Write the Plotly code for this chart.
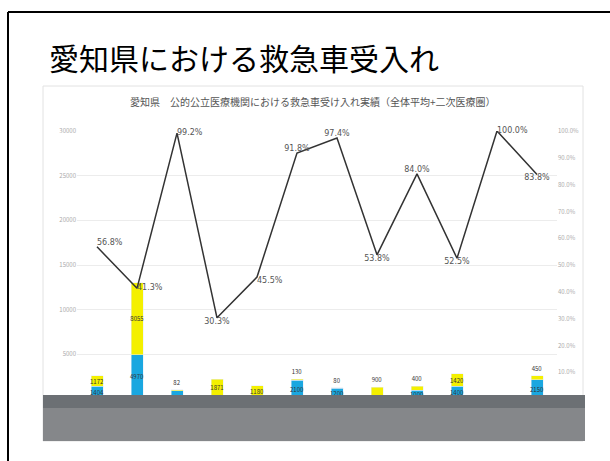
import plotly.graph_objects as go

# ---- data ----
categories = ["全体", "名古屋", "海部", "尾張中部", "尾張東部", "尾張西部", "尾張北部",
              "知多半島", "西三河北部", "西三河南部", "東三河北部", "東三河南部"]
blue_vals = [1404, 4970, 950, 320, 300, 2100, 1200, 400, 1000, 1400, 150, 2150]
yellow_vals = [1172, 8055, 82, 1871, 1180, 130, 80, 900, 400, 1420, 50, 450]
blue_labels = ["1404", "4970", "", "", "", "2100", "1200", "", "1000", "1400", "150", "2150"]
yellow_labels = ["1172", "8055", "82", "1871", "1180", "130", "80", "900", "400", "1420", "", "450"]
yellow_text_pos = ["inside", "inside", "outside", "inside", "inside", "outside", "outside",
                   "outside", "outside", "inside", "outside", "outside"]
rate_vals = [56.8, 41.3, 99.2, 30.3, 45.5, 91.8, 97.4, 53.8, 84.0, 52.5, 100.0, 83.8]
rate_pos = ["top right", "middle right", "middle right", "bottom center", "bottom right",
            "top center", "top center", "bottom center", "top center", "bottom center",
            "middle right", "bottom center"]
left_ticks = [0, 5000, 10000, 15000, 20000, 25000, 30000]
right_ticks = [0, 10, 20, 30, 40, 50, 60, 70, 80, 90, 100]

W, H = 610, 461
L, R, T, B = 77, 557, 131, 399


def px(x):
    return (x - L) / (R - L)


def py(y):
    return (B - y) / (B - T)


fig = go.Figure()
fig.add_trace(go.Bar(x=categories, y=blue_vals, marker_color="#1aa7e0", width=0.3,
                     text=blue_labels, textposition="inside",
                     insidetextanchor="middle", constraintext="none", textangle=0,
                     textfont=dict(size=6, color="#333"), yaxis="y", showlegend=False))
fig.add_trace(go.Bar(x=categories, y=yellow_vals, marker_color="#f4f000", width=0.3,
                     text=yellow_labels, textposition=yellow_text_pos,
                     insidetextanchor="middle", constraintext="none", textangle=0,
                     cliponaxis=False,
                     textfont=dict(size=6, color="#333"), yaxis="y", showlegend=False))
fig.add_trace(go.Scatter(x=categories, y=rate_vals, mode="lines+text", yaxis="y2",
                         line=dict(color="#333333", width=1.5),
                         text=[f"{v:.1f}%" for v in rate_vals], textposition=rate_pos,
                         textfont=dict(size=8, color="#555", family="DejaVu Sans"),
                         cliponaxis=False, showlegend=False))

shapes = [
    # chart image frame
    dict(type="rect", xref="paper", yref="paper", x0=px(43), x1=px(583), y0=py(441), y1=py(86),
         line=dict(color="#e2e2e2", width=1), fillcolor="rgba(0,0,0,0)", layer="below"),
    # corrupted bottom band
    dict(type="rect", xref="paper", yref="paper", x0=px(43), x1=px(585), y0=py(441), y1=py(395),
         line=dict(width=0), fillcolor="#85878a", layer="above"),
    dict(type="rect", xref="paper", yref="paper", x0=px(43), x1=px(585), y0=py(408), y1=py(395),
         line=dict(width=0), fillcolor="#6c7074", layer="above"),
    # slide frame
    dict(type="line", xref="paper", yref="paper", x0=px(8), x1=px(8), y0=py(461), y1=py(12),
         line=dict(color="black", width=2)),
    dict(type="line", xref="paper", yref="paper", x0=px(8), x1=px(610), y0=py(12), y1=py(12),
         line=dict(color="black", width=2)),
]

annotations = [
    dict(text="愛知県における救急車受入れ", xref="paper", yref="paper", x=px(47), y=py(57),
         xanchor="left", yanchor="middle", showarrow=False,
         font=dict(size=30, color="black", family="Noto Sans CJK JP")),
    dict(text="愛知県　公的公立医療機関における救急車受け入れ実績（全体平均+二次医療圏）",
         xref="paper", yref="paper", x=px(313), y=py(101), xanchor="center", yanchor="middle",
         showarrow=False, font=dict(size=10, color="#555", family="Noto Sans CJK JP")),
]

fig.update_layout(
    width=W, height=H, barmode="stack",
    margin=dict(l=L, r=W - R, t=T, b=H - B, pad=0),
    paper_bgcolor="white", plot_bgcolor="white",
    shapes=shapes, annotations=annotations,
    xaxis=dict(showticklabels=False, showgrid=False, zeroline=False, showline=False,
               range=[-0.5, len(categories) - 0.5]),
    yaxis=dict(range=[0, 30000], tickvals=left_ticks, ticktext=[str(v) for v in left_ticks],
               showgrid=True, gridcolor="#ececec",
               zeroline=False, tickfont=dict(size=6, color="#aaa"), ticks=""),
    yaxis2=dict(range=[0, 100], tickvals=right_ticks,
                ticktext=[f"{v:.1f}%" for v in right_ticks], overlaying="y", side="right",
                showgrid=False, zeroline=False,
                tickfont=dict(size=6, color="#aaa")),
    font=dict(family="Noto Sans CJK JP"),
)

fig.write_html("out.html")
